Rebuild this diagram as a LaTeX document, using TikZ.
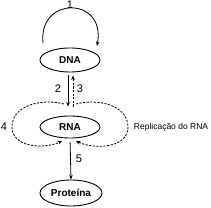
\documentclass[tikz,border=0pt]{standalone}
\usepackage{fontspec}
\setmainfont{Liberation Sans}
\usetikzlibrary{shapes.geometric,arrows.meta}

\tikzset{
  mol/.style={ellipse, draw, line width=0.9pt, inner sep=0pt, font=\bfseries\fontsize{10}{12}\selectfont},
  flow/.style={line width=0.8pt, -{Stealth[length=4.5pt,width=3.5pt]}},
  dots/.style={dash pattern=on 2.2pt off 1.4pt},
  num/.style={font=\fontsize{11}{12}\selectfont, inner sep=0pt}
}

\begin{document}
\begin{tikzpicture}[x=1pt,y=1pt]
        \useasboundingbox (0,0) rectangle (211,208);

        % --- molecules ---
        \node[mol, minimum width=60pt, minimum height=24pt] (dna)  at (70,148) {DNA};
        \node[mol, minimum width=60pt, minimum height=22pt] (rna)  at (70,81)  {RNA};
        \node[mol, minimum width=62pt, minimum height=26pt] (prot) at (71,15)  {Proteína};

        % --- loop 1 (DNA -> DNA) ---
        \coordinate (ds) at (43,165);
        \coordinate (de) at (97,162);
        \draw[flow] (ds) .. controls (38,212) and (106,212) .. (de);
        \node[num] (n1) at (70,203) {1};

        % --- DNA <-> RNA ---
        \draw[flow, shorten <=3pt, shorten >=9pt] ([xshift=-2pt]dna.south) -- ([xshift=-2pt]rna.north);
        \draw[flow, dots, shorten <=9pt, shorten >=3pt] ([xshift=3pt]rna.north) -- ([xshift=3pt]dna.south);
        \node[num] (n2) at (58,119) {2};
        \node[num] (n3) at (80,119) {3};

        % --- loops 4 (RNA -> RNA) ---
        \coordinate (la) at (64,104);
        \coordinate (lb) at (12,81);
        \coordinate (lc) at (62,67);
        \coordinate (ra) at (76,104);
        \coordinate (rb) at (128,81);
        \coordinate (rc) at (76,67);
        \draw[flow, dots] (la) to[out=165,in=90] (lb) to[out=-90,in=205] (lc);
        \draw[flow, dots] (ra) to[out=15,in=90] (rb) to[out=-90,in=-25] (rc);
        \node[num] (n4) at (4,81) {4};
        \node[font=\fontsize{8.5}{10}\selectfont, inner sep=0pt] (rep) at (171,81) {Replicação do RNA};

        % --- RNA -> Proteína ---
        \draw[flow, shorten <=4pt] (rna.south) -- (prot.north);
        \node[num] (n5) at (79,49) {5};
    \end{tikzpicture}
\end{document}
